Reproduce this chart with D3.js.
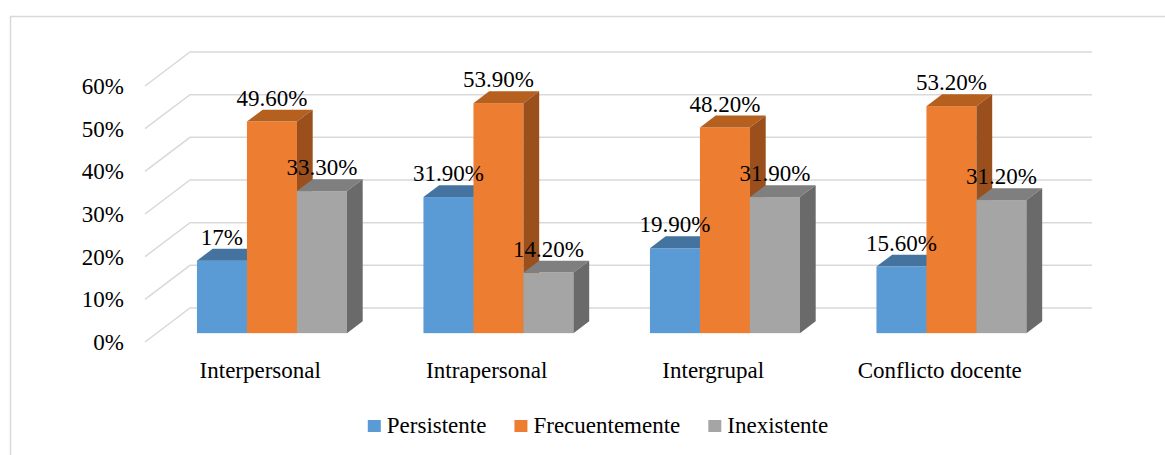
<!DOCTYPE html>
<html>
<head>
<meta charset="utf-8">
<script src="https://cdn.jsdelivr.net/npm/d3@7"></script>
<style>
  html, body { margin: 0; padding: 0; background: #fff; }
  #chart { width: 1165px; height: 455px; }
  #chart text { font-family: "Liberation Serif", "Times New Roman", serif; }
</style>
</head>
<body>
<div id="chart"></div>
<script>
(function () {
  "use strict";

  var categories = ["Interpersonal", "Intrapersonal", "Intergrupal", "Conflicto docente"];
  var seriesNames = ["Persistente", "Frecuentemente", "Inexistente"];
  var persistente    = [0.17, 0.319, 0.199, 0.156];
  var frecuentemente = [0.496, 0.539, 0.482, 0.532];
  var inexistente    = [0.333, 0.142, 0.319, 0.312];
  var persistenteLbl    = ["17%", "31.90%", "19.90%", "15.60%"];
  var frecuentementeLbl = ["49.60%", "53.90%", "48.20%", "53.20%"];
  var inexistenteLbl    = ["33.30%", "14.20%", "31.90%", "31.20%"];
  var yTicks = [0, 0.1, 0.2, 0.3, 0.4, 0.5, 0.6];
  var yTickLabels = ["0%", "10%", "20%", "30%", "40%", "50%", "60%"];

  var FRONT = ["#5B9BD5", "#ED7D31", "#A5A5A5"];
  var TOP   = ["#44739F", "#B5601F", "#7F7F7F"];
  var SIDE  = ["#3C6790", "#9A4F1C", "#6A6A6A"];
  var GRID  = "#d9d9d9";
  var FS    = 23;

  var values = [persistente, frecuentemente, inexistente];
  var labels = [persistenteLbl, frecuentementeLbl, inexistenteLbl];

  var W = 1165, H = 455;
  var plotL = 145, plotR = 1047;      // front edge of the floor
  var depthX = 45, depthY = -34;      // full floor depth, front -> back wall
  var barD0 = 0.26, barDD = 0.35;     // bar front plane and bar depth, fraction of floor depth

  var svg = d3.select("#chart").append("svg")
    .attr("width", W).attr("height", H);

  svg.append("rect")
    .attr("x", 10.5).attr("y", 16.5)
    .attr("width", 1300).attr("height", 600)
    .attr("fill", "#fff")
    .attr("stroke", GRID).attr("stroke-width", 1.5);

  var yScale = d3.scaleLinear().domain([0, 0.6]).range([342, 86]);
  // category bands on the front plane (labels) and for the bar groups
  var xBand = d3.scaleBand().domain(categories).range([147, 1053]);
  var groupW = 150;
  var xSub = d3.scaleBand().domain(seriesNames).range([0, groupW]);

  // wall gridlines: side wall diagonal + back wall horizontal
  var grid = svg.append("g")
    .attr("fill", "none").attr("stroke", GRID).attr("stroke-width", 1.5);
  yTicks.forEach(function (t) {
    var y = yScale(t);
    grid.append("polyline")
      .attr("points", [
        [plotL, y],
        [plotL + depthX, y + depthY],
        [plotR + depthX, y + depthY]
      ].map(function (p) { return p.join(","); }).join(" "));
  });

  svg.append("g").selectAll("text")
    .data(yTicks)
    .join("text")
      .attr("x", 124)
      .attr("y", function (d) { return yScale(d); })
      .attr("dy", "0.35em")
      .attr("text-anchor", "end")
      .attr("font-size", FS + "px")
      .attr("fill", "#000")
      .text(function (d, i) { return yTickLabels[i]; });

  var sx = barD0 * depthX, sy = barD0 * depthY;   // shift of bar front faces
  var bx = barDD * depthX, by = barDD * depthY;   // bar depth

  var bars = svg.append("g");
  var labelLayer = svg.append("g");

  categories.forEach(function (cat, ci) {
    var gx = xBand(cat) + (xBand.bandwidth() - groupW) / 2 + sx;
    seriesNames.forEach(function (s, si) {
      var v = values[si][ci];
      var x0 = gx + xSub(s), x1 = x0 + xSub.bandwidth();
      var yb = yScale(0) + sy, yt = yScale(v) + sy;

      bars.append("rect")
        .attr("x", x0).attr("y", yt)
        .attr("width", x1 - x0).attr("height", yb - yt)
        .attr("fill", FRONT[si]);
      bars.append("path")
        .attr("d", "M" + x0 + "," + yt + "L" + (x0 + bx) + "," + (yt + by) +
                   "L" + (x1 + bx) + "," + (yt + by) + "L" + x1 + "," + yt + "Z")
        .attr("fill", TOP[si]);
      bars.append("path")
        .attr("d", "M" + x1 + "," + yt + "L" + (x1 + bx) + "," + (yt + by) +
                   "L" + (x1 + bx) + "," + (yb + by) + "L" + x1 + "," + yb + "Z")
        .attr("fill", SIDE[si]);

      labelLayer.append("text")
        .attr("x", (x0 + x1) / 2)
        .attr("y", yt + by - 4)
        .attr("text-anchor", "middle")
        .attr("font-size", FS + "px")
        .attr("fill", "#000")
        .text(labels[si][ci]);
    });

    svg.append("text")
      .attr("x", xBand(cat) + xBand.bandwidth() / 2)
      .attr("y", 378)
      .attr("text-anchor", "middle")
      .attr("font-size", FS + "px")
      .attr("fill", "#000")
      .text(cat);
  });

  // legend
  var legend = svg.append("g");
  var items = seriesNames.map(function (s, i) {
    var g = legend.append("g");
    g.append("rect").attr("x", 0).attr("y", -13).attr("width", 13).attr("height", 12).attr("fill", FRONT[i]);
    var t = g.append("text").attr("x", 19).attr("y", 0)
      .attr("font-size", FS + "px").attr("fill", "#000").text(s);
    return { g: g, w: 19 + t.node().getComputedTextLength() };
  });
  var gap = 28;
  var total = d3.sum(items, function (d) { return d.w; }) + gap * (items.length - 1);
  var lx = 598 - total / 2;
  items.forEach(function (it) {
    it.g.attr("transform", "translate(" + lx + ",433)");
    lx += it.w + gap;
  });
}());
</script>
</body>
</html>
